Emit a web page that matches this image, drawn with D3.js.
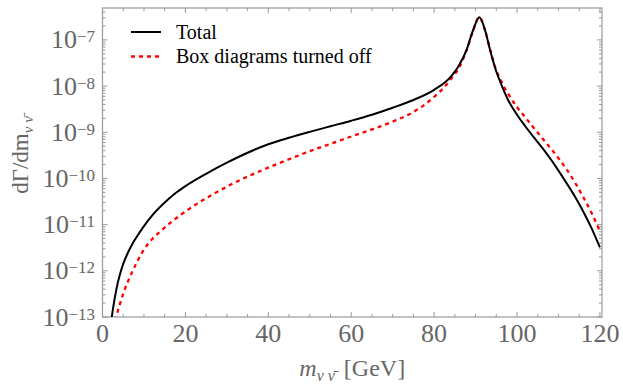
<!DOCTYPE html>
<html>
<head>
<meta charset="utf-8">
<script src="https://d3js.org/d3.v7.min.js"></script>
<style>
    body { margin: 0; background: #fff; }
    .tick-label { font-family: "Liberation Serif", serif; fill: #666; }
    .legend-text { font-family: "Liberation Serif", serif; font-size: 20px; fill: #000; }
    .axis-title { font-family: "Liberation Serif", serif; fill: #666; }
</style>
</head>
<body>
<div id="vis_container"></div>
<script>
    // invariant mass of the neutrino pair [GeV] and the rate
    var massTotal = [2.0, 2.6, 3.4, 4.2, 5.0, 6.0, 7.0, 8.0, 10, 12, 15, 17.5, 20, 25, 30, 35, 40, 45, 50, 55,
        60, 65, 70, 75, 80, 84, 86, 87.8, 89.4, 90.9, 92.3, 93.5, 94.7, 96, 98, 100, 102, 104, 106, 108, 110,
        112, 114, 116, 118, 120];
    var rateTotal = [7.1e-14, 1.66e-13, 4.2e-13, 8.3e-13, 1.41e-12, 2.34e-12, 3.55e-12, 5.0e-12, 9.3e-12,
        1.58e-11, 3.0e-11, 4.7e-11, 6.8e-11, 1.26e-10, 2.19e-10, 3.6e-10, 5.5e-10, 7.6e-10, 1.02e-9, 1.35e-9,
        1.78e-9, 2.4e-9, 3.4e-9, 5.0e-9, 8.3e-9, 1.58e-8, 2.8e-8, 6.0e-8, 1.62e-7, 3.1e-7, 1.62e-7, 6.0e-8,
        2.5e-8, 1.2e-8, 4.7e-9, 2.4e-9, 1.35e-9, 7.9e-10, 4.7e-10, 2.7e-10, 1.48e-10, 7.8e-11, 4.0e-11,
        1.9e-11, 8.3e-12, 3.2e-12];

    var massBox = [3.0, 3.4, 4.2, 5.0, 6.0, 7.4, 8.6, 9.8, 12, 14, 16.5, 19, 23.5, 27.5, 31.5, 35.5, 39.6, 45,
        50, 55, 60, 65, 70, 75, 79.8, 83.8, 86.2, 87.8, 89.4, 90.9, 92.3, 93.5, 94.7, 96, 98, 100, 102, 104, 106,
        108, 110, 112, 114, 116, 118, 120];
    var rateBox = [5.6e-14, 1.0e-13, 1.9e-13, 3.2e-13, 5.5e-13, 1.05e-12, 1.74e-12, 2.7e-12, 4.9e-12, 7.2e-12,
        1.12e-11, 1.66e-11, 3.1e-11, 5.0e-11, 7.8e-11, 1.15e-10, 1.66e-10, 2.6e-10, 3.9e-10, 5.6e-10, 8.1e-10,
        1.15e-9, 1.7e-9, 2.75e-9, 5.6e-9, 1.32e-8, 2.7e-8, 5.8e-8, 1.58e-7, 3.1e-7, 1.58e-7, 6.3e-8, 2.6e-8,
        1.38e-8, 6.5e-9, 3.5e-9, 2.1e-9, 1.26e-9, 7.6e-10, 4.6e-10, 2.75e-10, 1.55e-10, 8.1e-11, 3.9e-11,
        1.78e-11, 7.1e-12];

    var xTicks = [0, 20, 40, 60, 80, 100, 120];
    var yExponents = [-13, -12, -11, -10, -9, -8, -7];
    var legendLabels = ["Total", "Box diagrams turned off"];

    var width = 623;
    var height = 389;
    var plotLeft = 102.5, plotRight = 602, plotTop = 8, plotBottom = 317;
    var frameColor = "#999";

    var svg = d3.select("#vis_container")
            .append("svg")
            .attr("width", width)
            .attr("height", height);

    var x = d3.scaleLinear()
            .domain([0, 120.5])
            .range([plotLeft, plotRight]);

    var y = d3.scaleLog()
            .domain([1e-13, Math.pow(10, -6.31)])
            .range([plotBottom, plotTop]);

    //clip the curves to the frame
    svg.append("clipPath")
            .attr("id", "clip")
            .append("rect")
            .attr("x", plotLeft)
            .attr("y", plotTop)
            .attr("width", plotRight - plotLeft)
            .attr("height", plotBottom - plotTop);

    //frame ticks: majors every 20, minors every 5, on bottom and top
    var xMinor = d3.range(0, 121, 5);
    var frame = svg.append("g");
    xMinor.forEach(function(v) {
        var len = (v % 20 === 0) ? 5 : 3;
        frame.append("line").attr("x1", x(v)).attr("x2", x(v))
                .attr("y1", plotBottom).attr("y2", plotBottom - len)
                .attr("stroke", frameColor).attr("stroke-width", 1);
        frame.append("line").attr("x1", x(v)).attr("x2", x(v))
                .attr("y1", plotTop).attr("y2", plotTop + len)
                .attr("stroke", frameColor).attr("stroke-width", 1);
    });

    //log ticks on left and right
    var yMinor = [];
    for (var e = -14; e <= -6; e++) {
        for (var k = 1; k <= 9; k++) {
            var v = k * Math.pow(10, e);
            if (v >= 1e-13 && v <= y.domain()[1]) yMinor.push({v: v, major: k === 1});
        }
    }
    yMinor.forEach(function(d) {
        var len = d.major ? 5 : 3;
        frame.append("line").attr("x1", plotLeft).attr("x2", plotLeft + len)
                .attr("y1", y(d.v)).attr("y2", y(d.v))
                .attr("stroke", frameColor).attr("stroke-width", 1);
        frame.append("line").attr("x1", plotRight).attr("x2", plotRight - len)
                .attr("y1", y(d.v)).attr("y2", y(d.v))
                .attr("stroke", frameColor).attr("stroke-width", 1);
    });

    frame.append("rect")
            .attr("x", plotLeft).attr("y", plotTop)
            .attr("width", plotRight - plotLeft).attr("height", plotBottom - plotTop)
            .attr("fill", "none")
            .attr("stroke", frameColor)
            .attr("stroke-width", 1.2);

    //tick labels
    svg.selectAll(".xlab").data(xTicks).enter().append("text")
            .attr("class", "tick-label")
            .attr("x", function(d) { return x(d); })
            .attr("y", 342)
            .style("font-size", "26px")
            .style("text-anchor", "middle")
            .text(function(d) { return d; });

    var ylab = svg.selectAll(".ylab").data(yExponents).enter().append("text")
            .attr("class", "tick-label")
            .attr("x", 95)
            .attr("y", function(d) { return y(Math.pow(10, d)) + 8.5; })
            .style("font-size", "26px")
            .style("text-anchor", "end");
    ylab.append("tspan").text("10");
    ylab.append("tspan")
            .attr("dy", -6)
            .style("font-size", "17px")
            .text(function(d) { return "\u2212" + Math.abs(d); });

    //axis titles
    var xt = svg.append("text")
            .attr("class", "axis-title")
            .attr("x", (plotLeft + plotRight) / 2)
            .attr("y", 376)
            .style("font-size", "24px")
            .style("text-anchor", "middle");
    xt.append("tspan").style("font-style", "italic").text("m");
    xt.append("tspan").attr("dy", 5).style("font-size", "16px").style("font-style", "italic").text("\u03bd\u00a0\u03bd\u0304");
    xt.append("tspan").attr("dy", -5).attr("dx", 9).text("[GeV]");

    var yt = svg.append("text")
            .attr("class", "axis-title")
            .attr("transform", "translate(28," + 155 + ") rotate(-90)")
            .style("font-size", "23px")
            .style("text-anchor", "middle");
    yt.append("tspan").text("d\u0393/dm");
    yt.append("tspan").attr("dy", 5).style("font-size", "15px").style("font-style", "italic").text("\u03bd\u00a0\u03bd\u0304");

    //curves
    var line = d3.line()
            .x(function(d) { return x(d[0]); })
            .y(function(d) { return y(d[1]); })
            .curve(d3.curveMonotoneX);

    var plot = svg.append("g").attr("clip-path", "url(#clip)");

    plot.append("path")
            .datum(d3.zip(massBox, rateBox))
            .attr("d", line)
            .attr("fill", "none")
            .attr("stroke", "#ff0000")
            .attr("stroke-width", 2.3)
            .attr("stroke-dasharray", "4,4");

    plot.append("path")
            .datum(d3.zip(massTotal, rateTotal))
            .attr("d", line)
            .attr("fill", "none")
            .attr("stroke", "#000")
            .attr("stroke-width", 2);

    //legend
    var legendStyles = [{color: "#000", dash: null, w: 2}, {color: "#ff0000", dash: "4,4", w: 2.3}];
    legendLabels.forEach(function(label, i) {
        var ly = 32 + i * 24.5;
        svg.append("line")
                .attr("x1", 131).attr("x2", 161)
                .attr("y1", ly).attr("y2", ly)
                .attr("stroke", legendStyles[i].color)
                .attr("stroke-width", legendStyles[i].w)
                .attr("stroke-dasharray", legendStyles[i].dash);
        svg.append("text")
                .attr("class", "legend-text")
                .attr("x", 176)
                .attr("y", ly + 6.5)
                .text(label);
    });
</script>
</body>
</html>
